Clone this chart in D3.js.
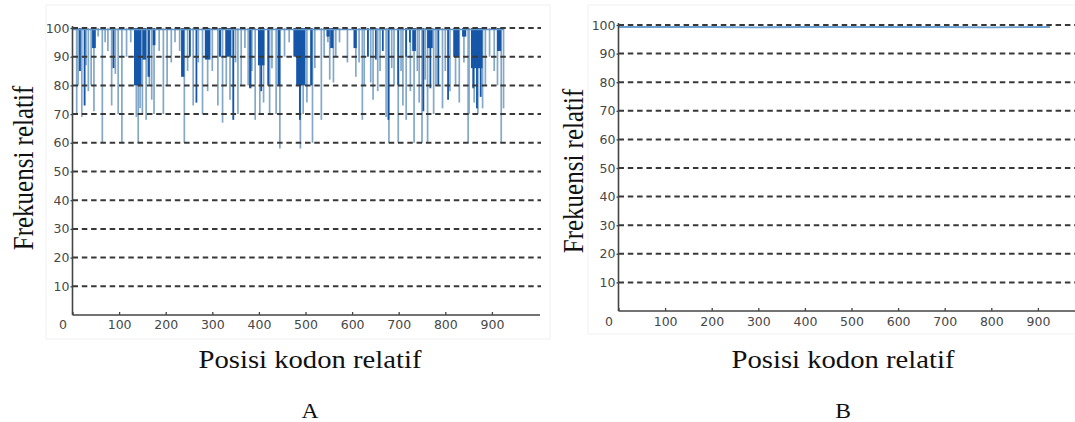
<!DOCTYPE html>
<html>
<head>
<meta charset="utf-8">
<script src="https://cdn.jsdelivr.net/npm/d3@7"></script>
<style>
  body { margin: 0; background: #fff; }
  svg { display: block; }
</style>
</head>
<body>
<div id="chart"></div>
<script>
const xTicks = [0, 100, 200, 300, 400, 500, 600, 700, 800, 900];
const yTicks = [10, 20, 30, 40, 50, 60, 70, 80, 90, 100];

// panel A: thin light dips (codon position, relative frequency)
const lightPosA = [9, 12, 20, 29, 34, 40, 46, 55, 64, 70, 76, 84, 92, 98, 106, 116, 125, 137, 141, 145,
    150, 158, 165, 170, 175, 186, 195, 203, 212, 220, 230, 240, 247, 259, 270, 279, 290, 300, 312, 322,
    330, 338, 350, 355, 362, 370, 377, 385, 392, 402, 410, 423, 428, 437, 445, 455, 465, 489, 495, 503,
    515, 520, 534, 540, 548, 552, 560, 565, 573, 590, 608, 615, 622, 626, 640, 645, 655, 660, 673, 679,
    685, 690, 699, 705, 709, 716, 725, 733, 740, 744, 750, 757, 762, 775, 780, 794, 800, 810, 822, 830,
    840, 849, 851, 862, 870, 880, 886, 895, 905, 912, 920, 925];
const lightValA = [70, 80, 69, 87, 78, 80, 71, 97, 60, 95, 92, 73, 84, 70, 60, 90, 95, 69, 60, 72,
    70, 68, 80, 75, 70, 92, 70, 80, 88, 95, 92, 60, 85, 73, 88, 70, 78, 85, 73, 67,
    80, 75, 88, 70, 80, 93, 80, 85, 68, 70, 74, 70, 86, 70, 58, 90, 95, 58, 70, 74,
    60, 86, 68, 90, 95, 82, 81, 90, 95, 88, 83, 88, 68, 80, 81, 75, 78, 85, 69, 60,
    86, 80, 60, 85, 73, 68, 78, 60, 85, 74, 60, 82, 60, 70, 80, 72, 85, 78, 80, 74,
    88, 60, 70, 74, 70, 72, 80, 90, 85, 80, 60, 72];

// panel A: dark dense blocks (start, end, value)
const darkStartA = [14, 24, 42, 86, 132, 150, 161, 172, 233, 250, 264, 284, 314, 328, 343, 379, 398, 403, 418, 440,
    474, 480, 486, 510, 545, 553, 603, 632, 649, 664, 676, 697, 714, 722, 729, 751, 761, 766, 783, 804,
    817, 836, 855, 858, 866, 874, 911];
const darkEndA = [18, 28, 50, 90, 148, 158, 166, 178, 240, 253, 267, 296, 319, 341, 347, 384, 412, 406, 421, 446,
    482, 500, 490, 515, 552, 560, 610, 636, 652, 667, 679, 701, 718, 725, 737, 753, 773, 769, 787, 807,
    830, 845, 880, 861, 869, 877, 920];
const darkValA = [85, 73, 93, 86, 80, 89, 83, 94, 83, 90, 74, 89, 90, 90, 68, 79, 87, 78, 80, 80,
    90, 80, 68, 80, 97, 93, 93, 90, 89, 92, 68, 80, 90, 95, 92, 71, 93, 79, 80, 75,
    90, 97, 86, 79, 72, 76, 92];

const topPosA = [0, 926];
const topValA = [99.5, 99.5];

// panel B: flat line just under 100
const posB = [0, 100, 200, 300, 400, 500, 600, 700, 800, 926];
const valB = [99.3, 99.3, 99.3, 99.2, 99.3, 99.3, 99.3, 99.3, 99.2, 99.3];

const width = 1075;
const height = 422;

const svg = d3.select('#chart')
    .append('svg')
    .attr('width', width)
    .attr('height', height);

function drawPanel(p) {
    const x = d3.scaleLinear().domain([0, 1000]).range([p.left, p.left + 466]);
    const y = d3.scaleLinear().domain([0, 100]).range([p.bottom, p.top]);
    const g = svg.append('g');

    // faint frame of the original screenshot
    g.append('rect')
        .attr('x', p.frame[0]).attr('y', p.frame[1])
        .attr('width', p.frame[2] - p.frame[0]).attr('height', p.frame[3] - p.frame[1])
        .attr('fill', 'none').attr('stroke', '#f1f1f1');

    p.drawData(g, x, y);

    // dashed grid
    g.append('g')
        .selectAll('line')
        .data(yTicks)
        .join('line')
        .attr('x1', x(0)).attr('x2', p.gridEnd)
        .attr('y1', d => y(d)).attr('y2', d => y(d))
        .attr('stroke', '#383838')
        .attr('stroke-width', 2)
        .attr('stroke-dasharray', '5.5,3.8');

    const yAxis = g.append('g')
        .attr('transform', `translate(${x(0)},0)`)
        .call(d3.axisLeft(y).tickValues(yTicks).tickSizeInner(2).tickSizeOuter(0).tickPadding(1));
    yAxis.select('.domain').remove();

    const xAxis = g.append('g')
        .attr('transform', `translate(0,${y(0)})`)
        .call(d3.axisBottom(x).tickValues(xTicks).tickSizeInner(-3).tickSizeOuter(0).tickPadding(p.xPad));
    xAxis.select('.domain').remove();
    xAxis.selectAll('.tick text').filter(d => d === 0).attr('dx', -10);

    g.selectAll('.tick line').attr('stroke', '#444').attr('stroke-width', 1.3);
    g.selectAll('.tick text')
        .attr('fill', '#474747')
        .attr('font-family', 'DejaVu Sans')
        .attr('font-size', 12.5);

    // axis lines
    g.append('line')
        .attr('x1', x(0)).attr('x2', x(0))
        .attr('y1', y(0)).attr('y2', y(100) - 2)
        .attr('stroke', '#444').attr('stroke-width', 1.6);
    g.append('line')
        .attr('x1', x(0)).attr('x2', p.axisEnd)
        .attr('y1', y(0)).attr('y2', y(0))
        .attr('stroke', '#444').attr('stroke-width', 1.6);

    // titles
    g.append('text')
        .attr('transform', `translate(${p.yTitle[0]},${p.yTitle[1]}) scale(1.18,1) rotate(-90)`)
        .attr('text-anchor', 'middle')
        .attr('font-family', 'Liberation Serif')
        .attr('font-size', 25)
        .attr('fill', '#111')
        .text('Frekuensi relatif');

    g.append('text')
        .attr('transform', `translate(${p.xTitle[0]},${p.xTitle[1]}) scale(1.18,1)`)
        .attr('text-anchor', 'middle')
        .attr('font-family', 'Liberation Serif')
        .attr('font-size', 24.3)
        .attr('fill', '#111')
        .text('Posisi kodon relatif');

    g.append('text')
        .attr('transform', `translate(${p.xTitle[0]},418) scale(1.18,1)`)
        .attr('text-anchor', 'middle')
        .attr('font-family', 'Liberation Serif')
        .attr('font-size', 20)
        .attr('fill', '#111')
        .text(p.label);
}

drawPanel({
    left: 72.5, top: 28, bottom: 315, gridEnd: 541, axisEnd: 540, xPad: 5,
    frame: [46, 5, 550, 339],
    yTitle: [33, 168], xTitle: [310, 368], label: 'A',
    drawData: (g, x, y) => {
        g.append('g')
            .selectAll('line')
            .data(lightPosA)
            .join('line')
            .attr('x1', d => x(d)).attr('x2', d => x(d))
            .attr('y1', y(100)).attr('y2', (d, i) => y(lightValA[i]))
            .attr('stroke', '#83a8c9')
            .attr('stroke-width', 1.7);

        g.append('g')
            .attr('fill', '#1656a8')
            .selectAll('rect')
            .data(darkStartA)
            .join('rect')
            .attr('x', d => x(d))
            .attr('y', y(100))
            .attr('width', (d, i) => Math.max(1.8, x(darkEndA[i]) - x(d)))
            .attr('height', (d, i) => y(darkValA[i]) - y(100));

        const line = d3.line().x(d => x(d[0])).y(d => y(d[1]));
        g.append('path')
            .datum(topPosA.map((d, i) => [d, topValA[i]]))
            .attr('d', line)
            .attr('fill', 'none')
            .attr('stroke', '#5f93c4')
            .attr('stroke-width', 1.5);
    }
});

drawPanel({
    left: 618.5, top: 25, bottom: 311, gridEnd: 1075, axisEnd: 1075, xPad: 6,
    frame: [588, 5, 1080, 334],
    yTitle: [583, 171], xTitle: [843, 368], label: 'B',
    drawData: (g, x, y) => {
        const line = d3.line().x(d => x(d[0])).y(d => y(d[1]));
        g.append('path')
            .datum(posB.map((d, i) => [d, valB[i]]))
            .attr('d', line)
            .attr('fill', 'none')
            .attr('stroke', '#6d9fcf')
            .attr('stroke-width', 1.8);
    }
});
</script>
</body>
</html>
